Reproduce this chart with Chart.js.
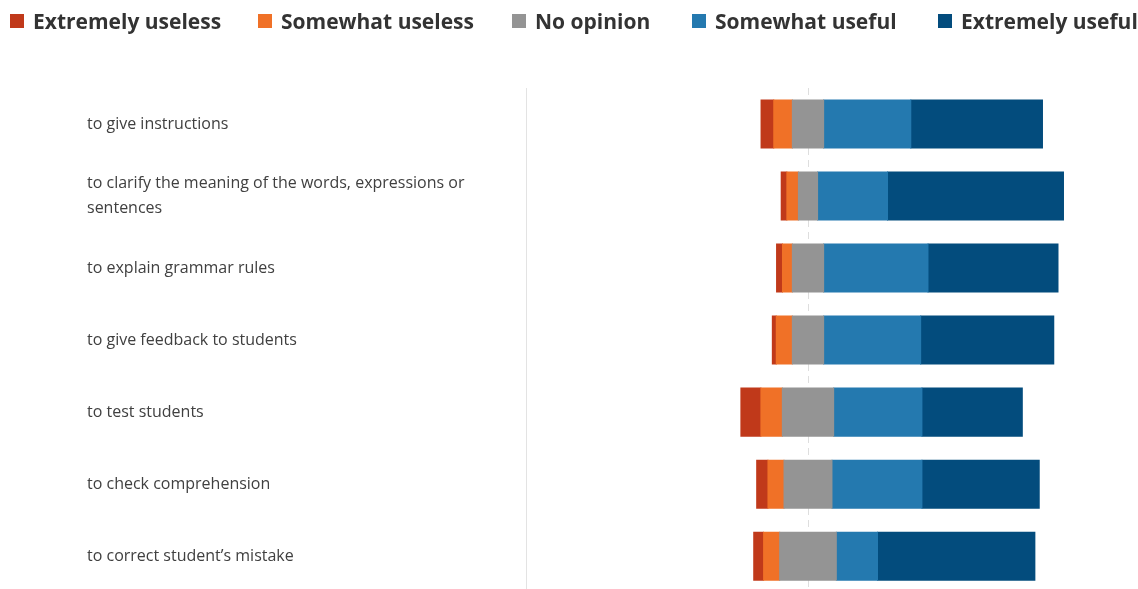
<!DOCTYPE html>
<html>
<head>
<meta charset="utf-8">
<script src="https://cdn.jsdelivr.net/npm/chart.js@4"></script>
<style>
  body { margin: 0; overflow: hidden; background: #fff; }
  #wrap { position: relative; width: 1138px; height: 589px; overflow: hidden; }
  #chartBox { position: absolute; left: 0; top: 0; width: 1138px; height: 608px; }
  #legend { position: absolute; left: 0; top: 0; width: 1138px; height: 44px; }
  .item { position: absolute; top: 7px; display: flex; align-items: center; white-space: nowrap;
          font-family: "Open Sans", sans-serif; font-weight: 700; font-size: 21px; color: #333; }
  .box { width: 14px; height: 14px; margin-right: 9px; }
</style>
</head>
<body>
<div id="wrap">
  <div id="chartBox"><canvas id="chart"></canvas></div>
  <div id="legend"></div>
</div>
<script>
// categories (y axis)
const categories = [
  "to give instructions",
  ["to clarify the meaning of the words, expressions or", "sentences"],
  "to explain grammar rules",
  "to give feedback to students",
  "to test students",
  "to check comprehension",
  "to correct student\u2019s mistake"
];

// answer shares in %
const extremelyUseless = [4.5, 2.0, 2.1, 1.4, 7.1, 4.0, 3.5];
const somewhatUseless  = [6.6, 4.1, 3.5, 5.7, 7.6, 5.7, 5.7];
const noOpinion        = [11.1, 6.8, 11.1, 11.1, 18.2, 17.0, 20.1];
const somewhatUseful   = [30.9, 24.8, 37.0, 34.4, 31.3, 31.9, 14.6];
const extremelyUseful  = [46.7, 62.4, 46.1, 47.2, 35.6, 41.6, 55.8];

const seriesNames = ["Extremely useless", "Somewhat useless", "No opinion", "Somewhat useful", "Extremely useful"];
const seriesColors = ["#c0391a", "#f07127", "#949494", "#2479af", "#034c7d"];
const legendX = [10, 258, 512, 692, 938];

// HTML legend
const legendEl = document.getElementById("legend");
seriesNames.forEach((name, i) => {
  const item = document.createElement("div");
  item.className = "item";
  item.style.left = legendX[i] + "px";
  item.innerHTML = `<span class="box" style="background:${seriesColors[i]}"></span>${name}`;
  legendEl.appendChild(item);
});

// diverging: no opinion is split half left / half right of zero
const neg = arr => arr.map(v => -v);
const half = arr => arr.map(v => v / 2);

function bar(label, data, color) {
  return {
    label: label,
    data: data,
    backgroundColor: color,
    borderWidth: 0,
    inflateAmount: 0.5,
    categoryPercentage: 0.667,
    barPercentage: 1
  };
}

const datasets = [
  bar("No opinion", neg(half(noOpinion)), seriesColors[2]),
  bar("Somewhat useless", neg(somewhatUseless), seriesColors[1]),
  bar("Extremely useless", neg(extremelyUseless), seriesColors[0]),
  bar("No opinion", half(noOpinion), seriesColors[2]),
  bar("Somewhat useful", somewhatUseful, seriesColors[3]),
  bar("Extremely useful", extremelyUseful, seriesColors[4])
];

new Chart(document.getElementById("chart"), {
  type: "bar",
  data: { labels: categories, datasets: datasets },
  options: {
    indexAxis: "y",
    responsive: true,
    maintainAspectRatio: false,
    animation: false,
    layout: { padding: { top: 88, left: 87, right: 48, bottom: 0 } },
    plugins: {
      legend: { display: false },
      tooltip: { enabled: false }
    },
    scales: {
      x: {
        stacked: true,
        min: -100,
        max: 100,
        afterFit: scale => { scale.height = 0; },
        ticks: { display: false, stepSize: 50 },
        grid: {
          drawTicks: false,
          lineWidth: 1,
          color: ctx => (ctx.tick && ctx.tick.value === 0) ? "#dedede" : "transparent"
        },
        border: { display: false, dash: [7, 5] }
      },
      y: {
        stacked: true,
        afterFit: scale => { scale.width = 439; },
        grid: { display: false },
        border: { display: true, color: "#e3e3e3", width: 1 },
        ticks: {
          crossAlign: "far",
          color: "#404040",
          font: { family: "'Open Sans', sans-serif", size: 16, lineHeight: 1.6 }
        }
      }
    }
  }
});
</script>
</body>
</html>
